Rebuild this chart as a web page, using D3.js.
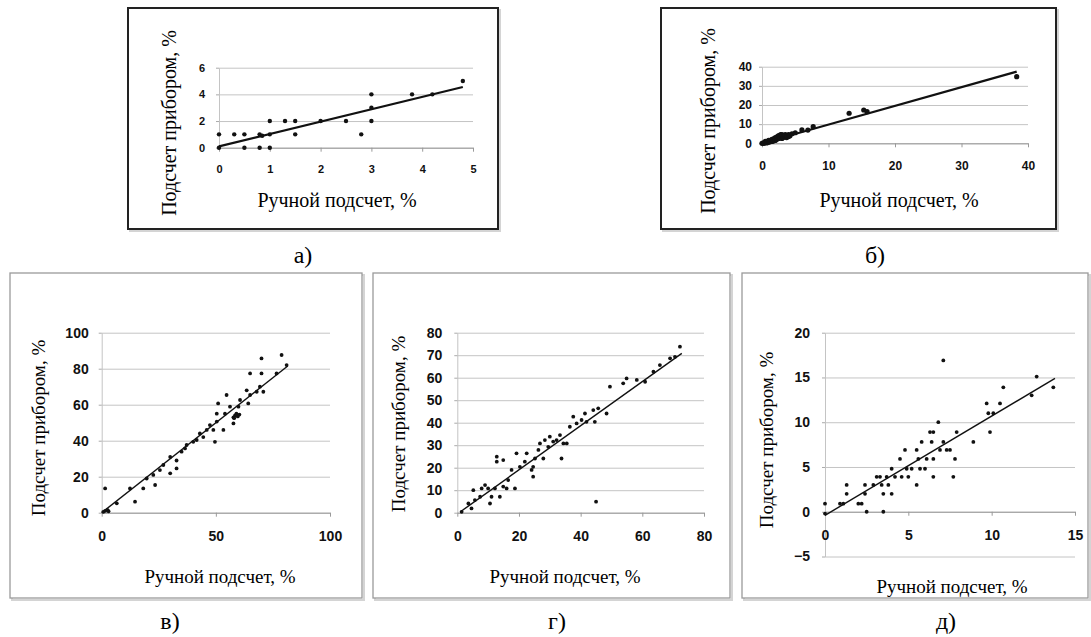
<!DOCTYPE html>
<html>
<head>
<meta charset="utf-8">
<script src="https://cdn.jsdelivr.net/npm/d3@7"></script>
<style>
  body { margin: 0; background: #fff; }
  svg { display: block; }
  .tick text { font-family: "Liberation Sans", Arial, sans-serif; font-weight: bold; fill: #111; }
</style>
</head>
<body>
<svg id="chart" width="1091" height="637"></svg>
<script>
// а) data
const pointsA = [[0,1],[0,0],[0.3,1],[0.5,1],[0.5,0],[0.8,1],[0.8,0],[0.85,0.9],[1,2],[1,1],[1,0],[1.3,2],[1.5,2],[1.5,1],[2,2],[2.5,2],[2.8,1],[3,4],[3,3],[3,2],[3.8,4],[4.2,4],[4.8,5]];
const trendA = [[0,0.1],[4.8,4.55]];
const xTicksA = [0,1,2,3,4,5];
const yTicksA = [0,2,4,6];

// б) data
const pointsB = [[0,0],[0.2,0.3],[0.3,0],[0.5,0.5],[0.5,1],[0.7,0.2],[0.8,1],[1,0.5],[1,1.5],[1.2,0.8],[1.3,1.5],[1.5,1],[1.5,2],[1.7,1.2],[1.8,2.5],[2,1.5],[2,2.5],[2,3],[2.2,2],[2.3,3.5],[2.5,2.5],[2.5,3.5],[2.5,4],[2.7,3],[2.8,4.5],[3,2.5],[3,3.5],[3,4.5],[3.2,3],[3.3,4],[3.5,3.5],[3.5,4.5],[3.7,3],[3.8,4],[4,3.5],[4,4.5],[4.2,4],[4.5,5],[5,5.5],[6,7],[6.9,6.9],[7.7,8.7],[13.1,15.7],[15.3,17.4],[15.8,16.5],[38.3,34.8]];
const trendB = [[0,0],[38.3,37.4]];
const xTicksB = [0,10,20,30,40];
const yTicksB = [0,10,20,30,40];

// в) data
const pointsC = [[1.5,13.5],[0.7,0.5],[1.5,1],[2.5,1.5],[3,0.8],[6.6,5.2],[12.4,13.5],[14.6,6.1],[18.2,13.5],[19.7,19],[22.6,21],[23.4,15.4],[25.5,23.7],[27,26.5],[30,31],[30,21.9],[32.8,29],[32.8,24.6],[35,33.9],[36.5,35.7],[37.2,37.6],[40.1,39.4],[41.6,40.4],[43,44],[44.5,42],[46,46],[47.4,48.7],[48.9,46],[49.6,39.4],[50.4,55],[50.4,50.6],[51,60.7],[53.3,46],[54,55],[54.7,65.4],[56.2,58.9],[57.7,53],[58.4,54],[59,55],[59.6,53.5],[60.3,54.5],[58,52.5],[57.7,49.6],[59.9,58.9],[60.6,62.6],[63.5,68],[64.2,60.7],[65,77.4],[65,65.4],[67.9,67.2],[69.3,70],[70,85.7],[70,77.4],[70.8,67.2],[76.6,77.4],[78.8,87.6],[81,82]];
const trendC = [[0,0],[81.5,81.5]];
const xTicksC = [0,50,100];
const yTicksC = [0,20,40,60,80,100];

// г) data
const pointsD = [[1.4,0.4],[3.6,4.1],[4.6,1.9],[5.2,10],[5.7,5.6],[7.4,7.1],[7.9,10.8],[9,12.3],[10,10.8],[10.6,4.1],[11.1,7.1],[12.2,10.8],[12.8,22.7],[12.8,24.9],[13.8,7.1],[14.9,23.4],[14.9,11.6],[16,10.8],[16.5,14.5],[17.6,19],[18.7,10.8],[19.2,26.4],[20.3,20.4],[21.9,22.7],[22.5,26.4],[24.1,19],[24.6,16],[24.6,20.4],[25.2,24.1],[26.3,27.9],[26.8,30.8],[27.9,24.1],[28.4,32.3],[29.5,29.3],[30,33.8],[31.1,31.6],[32.2,32.3],[33.3,34.5],[33.8,24.1],[34.4,30.8],[35.5,30.8],[36.5,38.2],[37.6,42.7],[38.7,39.7],[40.3,41.2],[41.4,44.1],[41.9,40.4],[44.1,45.6],[44.6,40.4],[45,4.9],[45.7,46.4],[48.4,44.1],[49.5,56],[53.8,57.5],[54.9,59.7],[58.2,59],[60.9,58.2],[63.6,62.7],[65.7,65.6],[69,68.6],[70.6,69.3],[72.2,73.8]];
const trendD = [[1,0.4],[72.8,70.8]];
const xTicksD = [0,20,40,60,80];
const yTicksD = [0,10,20,30,40,50,60,70,80];

// д) data
const pointsE = [[0,0.9],[0,-0.2],[0.9,0.9],[1.1,0.9],[1.3,3],[1.3,2],[2,0.9],[2.2,0.9],[2.4,3],[2.4,2],[2.5,0],[2.9,3],[3.1,3.9],[3.3,3.9],[3.4,3],[3.5,0],[3.5,2],[3.7,3.9],[3.8,3],[4,2],[4,4.8],[4.2,3.9],[4.5,5.9],[4.6,3.9],[4.8,6.9],[4.9,4.8],[5,3.9],[5.2,4.8],[5.5,6.9],[5.5,3],[5.6,5.9],[5.7,4.8],[5.8,7.8],[6,4.8],[6.1,5.9],[6.3,8.9],[6.4,7.8],[6.5,8.9],[6.5,5.9],[6.5,3.9],[6.8,10],[6.9,6.9],[7.1,16.9],[7.1,7.8],[7.3,6.9],[7.5,6.9],[7.7,3.9],[7.8,5.9],[7.9,8.9],[8.9,7.8],[9.7,12.1],[9.8,11],[9.9,8.9],[10.1,11],[10.5,12.1],[10.7,13.9],[12.4,13],[12.7,15.1],[13.7,13.9]];
const trendE = [[0,-0.4],[13.8,14.9]];
const xTicksE = [0,5,10,15];
const yTicksE = [-5,0,5,10,15,20];

const xTitle = "Ручной подсчет, %";
const yTitle = "Подсчет прибором, %";

const panels = [
  { name: "а)", points: pointsA, trend: trendA, xTicks: xTicksA, yTicks: yTicksA,
    box: [128, 8, 498, 229], xr: [219, 473], yr: [147.7, 67.7], dark: true, r: 2.2,
    tickFont: 11, yPad: 14, ylab: [169, 123], xlab: [337, 200], letter: [303, 255] },
  { name: "б)", points: pointsB, trend: trendB, xTicks: xTicksB, yTicks: yTicksB,
    box: [661, 8, 1056, 229], xr: [762, 1028], yr: [143.3, 66.7], dark: true, r: 2.6,
    tickFont: 12, yPad: 10, ylab: [708, 121], xlab: [899, 200], letter: [875, 255] },
  { name: "в)", points: pointsC, trend: trendC, xTicks: xTicksC, yTicks: yTicksC,
    box: [10, 273, 362, 598], xr: [101.7, 330], yr: [512.7, 332.7], dark: false, r: 1.9,
    tickFont: 14, yPad: 13, ylab: [38, 428], xlab: [220, 576], letter: [170, 621] },
  { name: "г)", points: pointsD, trend: trendD, xTicks: xTicksD, yTicks: yTicksD,
    box: [373, 273, 730, 598], xr: [457.3, 704], yr: [512.7, 332.7], dark: false, r: 1.9,
    tickFont: 14, yPad: 15, ylab: [398, 424], xlab: [565, 576], letter: [557, 621] },
  { name: "д)", points: pointsE, trend: trendE, xTicks: xTicksE, yTicks: yTicksE,
    box: [742, 273, 1088, 598], xr: [825, 1075], yr: [556.5, 332.7], dark: false, r: 1.9,
    tickFont: 14, yPad: 15, ylab: [766, 440], xlab: [952, 586], letter: [946, 621] }
];

const svg = d3.select("#chart");

panels.forEach(p => {
  const g = svg.append("g");
  const [bx0, by0, bx1, by1] = p.box;

  // frame with a soft shadow
  g.append("rect")
    .attr("x", bx0 + 2).attr("y", by0 + 2)
    .attr("width", bx1 - bx0).attr("height", by1 - by0)
    .attr("fill", "none").attr("stroke", "#d4d4d4").attr("stroke-width", 2);
  g.append("rect")
    .attr("x", bx0).attr("y", by0)
    .attr("width", bx1 - bx0).attr("height", by1 - by0)
    .attr("fill", "#fff")
    .attr("stroke", p.dark ? "#222" : "#9a9a9a")
    .attr("stroke-width", p.dark ? 2 : 1.3);

  const x = d3.scaleLinear()
    .domain(d3.extent(p.xTicks))
    .range(p.xr);
  const y = d3.scaleLinear()
    .domain(d3.extent(p.yTicks))
    .range(p.yr);
  const fmt = d3.format("d");

  // horizontal gridlines + y tick labels
  const yAxis = g.append("g")
    .attr("transform", `translate(${p.xr[0]},0)`)
    .call(d3.axisLeft(y).tickValues(p.yTicks).tickFormat(fmt)
      .tickSize(-(p.xr[1] - p.xr[0])).tickPadding(p.yPad).tickSizeOuter(0));
  yAxis.selectAll(".tick line").attr("stroke", "#c4c4c4").attr("stroke-width", 1);
  yAxis.select(".domain").attr("stroke", "#c4c4c4");
  yAxis.selectAll("text").style("font-size", p.tickFont + "px");

  // small ticks on the left of y axis
  g.append("g")
    .attr("transform", `translate(${p.xr[0]},0)`)
    .call(d3.axisLeft(y).tickValues(p.yTicks).tickSize(3).tickFormat(""))
    .call(a => a.select(".domain").remove())
    .selectAll("line").attr("stroke", "#aaa");

  // x axis on the zero line
  const xAxis = g.append("g")
    .attr("transform", `translate(0,${y(0)})`)
    .call(d3.axisBottom(x).tickValues(p.xTicks).tickFormat(fmt)
      .tickSize(4).tickPadding(14).tickSizeOuter(0));
  xAxis.select(".domain").attr("stroke", "#9a9a9a");
  xAxis.selectAll(".tick line").attr("stroke", "#9a9a9a");
  xAxis.selectAll("text").style("font-size", p.tickFont + "px");

  // trend line
  g.append("line")
    .attr("x1", x(p.trend[0][0])).attr("y1", y(p.trend[0][1]))
    .attr("x2", x(p.trend[1][0])).attr("y2", y(p.trend[1][1]))
    .attr("stroke", "#111").attr("stroke-width", p.dark ? 2.2 : 1.4);

  // points
  g.append("g")
    .selectAll("circle")
    .data(p.points)
    .enter().append("circle")
    .attr("cx", d => x(d[0]))
    .attr("cy", d => y(d[1]))
    .attr("r", p.r)
    .attr("fill", "#111");

  // axis titles
  g.append("text")
    .attr("transform", `translate(${p.ylab[0]},${p.ylab[1]}) rotate(-90)`)
    .attr("text-anchor", "middle")
    .attr("dominant-baseline", "central")
    .style("font-family", "'Liberation Serif', 'Times New Roman', serif")
    .style("font-size", p.dark ? "20px" : "19px")
    .text(yTitle);

  g.append("text")
    .attr("x", p.xlab[0]).attr("y", p.xlab[1])
    .attr("text-anchor", "middle")
    .attr("dominant-baseline", "central")
    .style("font-family", "'Liberation Serif', 'Times New Roman', serif")
    .style("font-size", p.dark ? "20px" : "19px")
    .text(xTitle);

  // panel letter
  svg.append("text")
    .attr("x", p.letter[0]).attr("y", p.letter[1])
    .attr("text-anchor", "middle")
    .attr("dominant-baseline", "central")
    .style("font-family", "'Liberation Serif', 'Times New Roman', serif")
    .style("font-size", "24px")
    .text(p.name);
});
</script>
</body>
</html>
